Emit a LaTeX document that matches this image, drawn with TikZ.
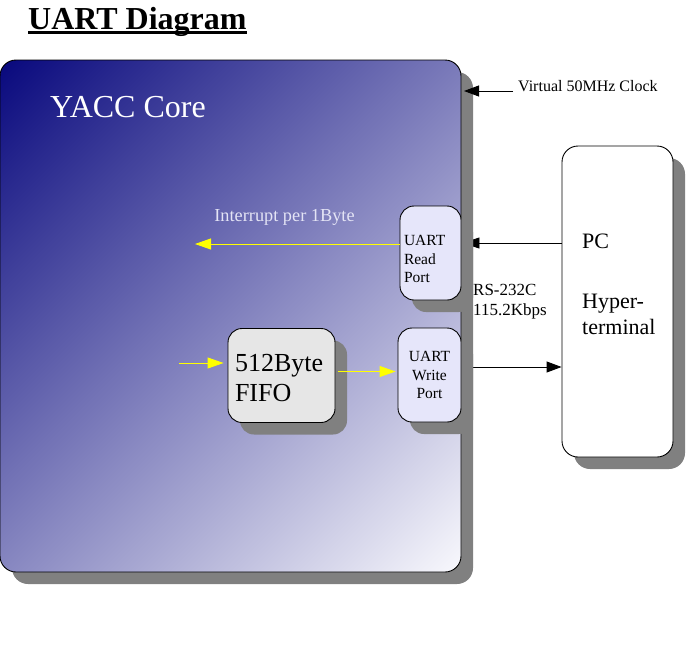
\documentclass[tikz,border=0pt]{standalone}
\usepackage{fontspec}
\setmainfont{Liberation Serif}
\usepackage{tikz}
\usetikzlibrary{shadows,arrows.meta}

\definecolor{coredark}{RGB}{10,10,126}
\definecolor{corelight}{RGB}{247,247,252}
\definecolor{portfill}{RGB}{230,230,250}
\definecolor{fifofill}{RGB}{230,230,230}
\definecolor{inttext}{RGB}{228,228,245}
\definecolor{sigyellow}{RGB}{255,255,0}

\pgfdeclareverticalshading{coreshade}{100bp}{color(0bp)=(corelight); color(15bp)=(corelight); color(85bp)=(coredark); color(100bp)=(coredark)}

\pgfdeclarelayer{background}
\pgfsetlayers{background,main}

\newcommand{\serifsize}[2]{\rmfamily\fontsize{#1}{#2}\selectfont}

\tikzset{
	boxshadow/.style={drop shadow={shadow xshift=12pt,shadow yshift=-12pt,opacity=1,fill=black!50}},
	corebox/.style={draw=black,line width=0.9pt,rounded corners=16pt,boxshadow,shading=coreshade,shading angle=45,minimum width=461pt,minimum height=512pt,inner sep=0pt},
	portbox/.style={draw=black,line width=0.9pt,rounded corners=14pt,boxshadow,fill=portfill,minimum height=94pt,inner xsep=4pt,font=\serifsize{15.5}{18.5}},
	fifobox/.style={draw=black,line width=0.9pt,rounded corners=14pt,boxshadow,fill=fifofill,minimum width=107pt,minimum height=94pt,inner xsep=7pt,text width=93pt,align=left,font=\serifsize{26}{30}},
	pcbox/.style={draw=black,line width=0.9pt,rounded corners=16pt,boxshadow,fill=white,minimum width=111pt,minimum height=311pt},
	blkarrow/.style={line width=0.9pt,-{Triangle[length=15pt,width=11pt]}},
	yelarrow/.style={sigyellow,line width=0.9pt,-{Triangle[length=16pt,width=11pt]}}
}

\begin{document}
\begin{tikzpicture}[x=1pt,y=-1pt]
	\useasboundingbox (0,0) rectangle (687,648);

	% Title
		\node[anchor=base west,inner sep=0pt,font=\serifsize{32}{36}\bfseries] (title) at (28,29) {UART Diagram};
		\draw[line width=2.4pt] ([yshift=-3.5pt]title.base west) -- ([yshift=-3.5pt]title.base east);

	% Core
		\node[corebox] (core) at (230.5,316) {};
		\node[anchor=west,inner sep=0pt,text=white,font=\serifsize{32}{35}] (coretitle) at (50,107) {YACC Core};
		\node[inner sep=0pt,text=inttext,font=\serifsize{18.3}{20}] (inttitle) at (284.5,217) {Interrupt per 1Byte};

	% Ports
		\node[portbox,minimum width=61pt,text width=53pt,align=left] (readport) at (430.5,253) {\rule{0pt}{23pt}UART\\Read\\Port};
		\node[portbox,minimum width=63pt,text width=55pt,align=center] (writeport) at (429.5,375) {UART\\Write\\Port};

	% FIFO
		\node[fifobox] (fifo) at (281.5,375.5) {\rule{0pt}{22pt}512Byte\\FIFO};

	% PC
		\node[pcbox] (pc) at (617.5,301.5) {};
		\node[anchor=north west,inner sep=0pt,align=left,font=\serifsize{22}{26}] (pctext) at (582,233.5) {PC\\[34pt]Hyper-\\terminal};

	% Clock
		\node[anchor=west,inner sep=0pt,font=\serifsize{16}{18}] (clock) at (518,86) {Virtual 50MHz Clock};
		\coordinate (clkpin) at (464,91);
		\draw[blkarrow] ([xshift=-5pt]clock.west |- clkpin) -- (clkpin);

	% RS-232C
		\node[anchor=west,inner sep=0pt,align=left,font=\serifsize{17}{20}] (rs) at (473,302) {RS-232C\\115.2Kbps};
		\begin{pgfonlayer}{background}
			\draw[blkarrow,-{Triangle[length=17pt,width=11pt]}] ([yshift=10pt]pc.west |- readport.east) -- ([yshift=10pt,xshift=1pt]readport.east);
			\draw[blkarrow] ([yshift=8pt]writeport.east) -- ([yshift=8pt]pc.west |- writeport.east);
		\end{pgfonlayer}

	% Yellow lines
		\coordinate (intend) at (195,244);
		\draw[yelarrow] (readport.west |- intend) -- (intend);
		\coordinate (fifoin) at (179,363);
		\draw[yelarrow] (fifoin) -- ([xshift=-4pt]fifo.west |- fifoin);
		\draw[yelarrow] ([yshift=4pt,xshift=3pt]fifo.east) -- ([yshift=4pt,xshift=-2pt]writeport.west |- fifo.east);
\end{tikzpicture}
\end{document}
